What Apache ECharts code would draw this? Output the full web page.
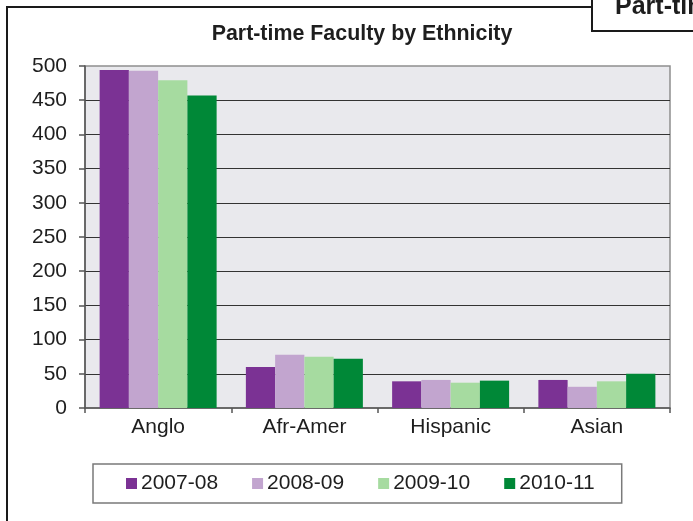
<!DOCTYPE html>
<html>
<head>
<meta charset="utf-8">
<style>
  html, body { margin: 0; padding: 0; background: #ffffff; }
  #chart { width: 693px; height: 521px; }
</style>
<script src="https://cdn.jsdelivr.net/npm/echarts@6/dist/echarts.min.js"></script>
</head>
<body>
<div id="chart"></div>
<script>
// Part-time faculty headcount by ethnicity, four academic years
const categories = ['Anglo', 'Afr-Amer', 'Hispanic', 'Asian'];
const years = ['2007-08', '2008-09', '2009-10', '2010-11'];
const values2007 = [494, 60, 39, 41];
const values2008 = [493, 78, 41, 31];
const values2009 = [479, 75, 37, 39];
const values2010 = [457, 72, 40, 50];
const yearColors = ['#7B3294', '#C2A5CF', '#A6DBA0', '#008837'];

const seriesValues = [values2007, values2008, values2009, values2010];
const FONT = '"Liberation Sans", Arial, sans-serif';

const chart = echarts.init(document.getElementById('chart'), null, { renderer: 'canvas' });

chart.setOption({
  animation: false,
  backgroundColor: '#ffffff',
  textStyle: { fontFamily: FONT },
  grid: {
    left: 85, right: 23, top: 66, bottom: 113,
    show: true,
    backgroundColor: '#E9E9ED',
    borderColor: '#8f8f8f',
    borderWidth: 1.5,
    containLabel: false
  },
  xAxis: {
    type: 'category',
    data: categories,
    axisLine: { show: true, lineStyle: { color: '#555555', width: 1.5 } },
    axisTick: { show: true, length: 5, interval: 0, lineStyle: { color: '#555555', width: 1.5 } },
    axisLabel: { color: '#1e1e1e', fontSize: 21, fontFamily: FONT, margin: 9, interval: 0 },
    splitLine: { show: false }
  },
  yAxis: {
    type: 'value',
    min: 0, max: 500, interval: 50,
    axisLine: { show: true, lineStyle: { color: '#555555', width: 1.5 } },
    axisTick: { show: true, length: 6, lineStyle: { color: '#555555', width: 1.5 } },
    axisLabel: { color: '#1e1e1e', fontSize: 21, fontFamily: FONT, margin: 18 },
    splitLine: { show: true, showMaxLine: false, showMinLine: false, lineStyle: { color: '#333333', width: 1.2 } }
  },
  legend: {
    data: years,
    left: 93, top: 464,
    orient: 'horizontal',
    itemWidth: 11, itemHeight: 11, itemGap: 34,
    padding: [9, 27, 9, 33],
    borderColor: '#7a7a7a', borderWidth: 1.5,
    backgroundColor: '#ffffff',
    icon: 'rect',
    textStyle: { color: '#1e1e1e', fontSize: 21, fontFamily: FONT, padding: [0, 0, 0, -1] }
  },
  series: years.map((name, i) => ({
    name: name,
    type: 'bar',
    data: seriesValues[i],
    barGap: '0%',
    barCategoryGap: '20%',
    itemStyle: { color: yearColors[i] }
  })),
  graphic: [
    // outer frame (left and top edges)
    { type: 'polyline', z: 100, shape: { points: [[7, 530], [7, 7], [592, 7]] },
      style: { stroke: '#1a1a1a', lineWidth: 2, fill: null } },
    // neighbouring heading box at the top-right
    { type: 'rect', z: 101, shape: { x: 592, y: -10, width: 120, height: 41 },
      style: { stroke: '#1a1a1a', lineWidth: 2, fill: '#ffffff' } },
    { type: 'text', z: 102, x: 615, y: 7,
      style: { text: 'Part-time', font: 'bold 25px ' + FONT, fill: '#1e1e1e', align: 'left', verticalAlign: 'middle' } },
    // chart title
    { type: 'text', z: 102, x: 362, y: 34.5,
      style: { text: 'Part-time Faculty by Ethnicity', font: 'bold 21.4px ' + FONT, fill: '#1e1e1e', align: 'center', verticalAlign: 'middle' } }
  ]
});
</script>
</body>
</html>
